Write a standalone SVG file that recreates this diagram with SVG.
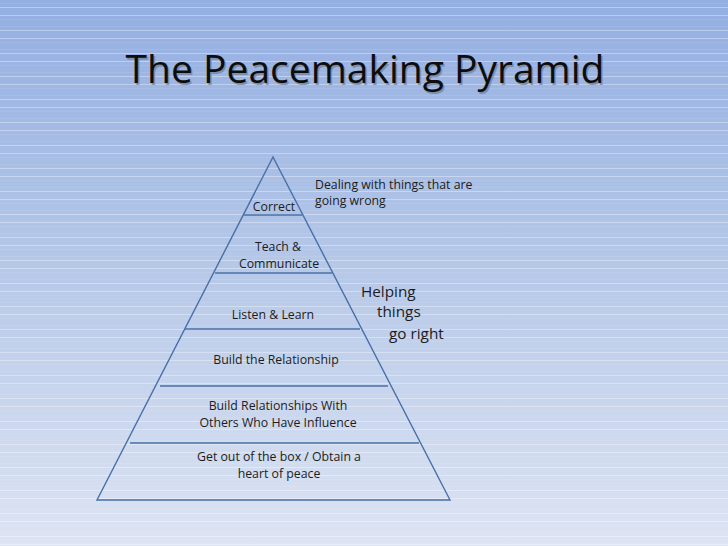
<svg xmlns="http://www.w3.org/2000/svg" width="728" height="546" viewBox="0 0 728 546">
<defs>
<linearGradient id="bg" x1="0" y1="0" x2="0" y2="1">
<stop offset="0" stop-color="#93aee1"/>
<stop offset="0.45" stop-color="#b3c6e7"/>
<stop offset="1" stop-color="#dde4f3"/>
</linearGradient>
<pattern id="stripes" x="0" y="0" width="728" height="23" patternUnits="userSpaceOnUse">
<rect x="0" y="7" width="728" height="1" fill="#ffffff" opacity="0.35"/>
<rect x="0" y="15" width="728" height="1" fill="#ffffff" opacity="0.35"/>
<rect x="0" y="3" width="728" height="1" fill="#ffffff" opacity="0.08"/>
<rect x="0" y="19" width="728" height="1" fill="#ffffff" opacity="0.08"/>
</pattern>
</defs>
<style>
.lbl{font-family:"Open Sans","Liberation Sans",sans-serif;font-size:12.3px;fill:#1c1c1c;text-anchor:middle}
.side{font-family:"Open Sans","Liberation Sans",sans-serif;fill:#1c1c1c}
.ln{stroke:#4770a8;stroke-width:1.4;fill:none}
</style>
<rect width="728" height="546" fill="url(#bg)"/>
<rect width="728" height="546" fill="url(#stripes)"/>
<g id="title">
<text x="366.5" y="84.5" font-family="Open Sans, Liberation Sans, sans-serif" font-size="39" fill="#6f7d96" text-anchor="middle" opacity="0.7">The Peacemaking Pyramid</text>
<text x="365" y="83" font-family="Open Sans, Liberation Sans, sans-serif" font-size="39" fill="#0d0d0d" text-anchor="middle">The Peacemaking Pyramid</text>
</g>
<g id="pyramid">
<polygon class="ln" points="273,157 450,500 97,500" stroke-width="2"/>
</g>
<g id="connectors">
<line class="ln" x1="244" y1="215" x2="302" y2="215" stroke-width="2.8"/>
<line class="ln" x1="215" y1="273" x2="332" y2="273"/>
<line class="ln" x1="185" y1="329" x2="360" y2="329"/>
<line class="ln" x1="160" y1="386" x2="388" y2="386"/>
<line class="ln" x1="130" y1="443" x2="419" y2="443"/>
</g>
<g id="correct"><text class="lbl" x="274" y="211">Correct</text></g>
<g id="teach"><text class="lbl" x="278" y="251">Teach &amp;</text><text class="lbl" x="279" y="268">Communicate</text></g>
<g id="listen"><text class="lbl" x="273" y="319">Listen &amp; Learn</text></g>
<g id="relationship"><text class="lbl" x="276" y="364">Build the Relationship</text></g>
<g id="influence"><text class="lbl" x="278" y="410">Build Relationships With</text><text class="lbl" x="278" y="427">Others Who Have Influence</text></g>
<g id="box"><text class="lbl" x="279" y="461">Get out of the box / Obtain a</text><text class="lbl" x="279" y="478">heart of peace</text></g>
<g id="dealing"><text class="side" x="315" y="189" font-size="12.3">Dealing with things that are</text><text class="side" x="315" y="205" font-size="12.3">going wrong</text></g>
<g id="helping"><text class="side" x="361" y="297" font-size="15.3">Helping</text><text class="side" x="377" y="317" font-size="15.3">things</text><text class="side" x="389" y="339" font-size="15.3">go right</text></g>
</svg>
